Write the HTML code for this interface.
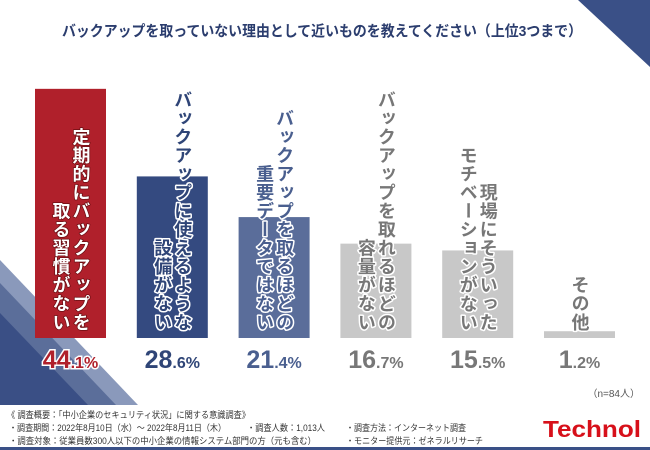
<!DOCTYPE html>
<html><head><meta charset="utf-8"><style>
html,body{margin:0;padding:0;background:#fff;}
svg{display:block;font-family:"Liberation Sans","Noto Sans CJK JP",sans-serif;}
.lbl{font-weight:bold;font-size:18px;writing-mode:vertical-rl;paint-order:stroke;stroke:#fff;stroke-width:3px;stroke-linejoin:round;}
.lbl0{stroke:#6a0d12;stroke-width:1.5px;}
.pct{font-weight:bold;paint-order:stroke;stroke:#fff;stroke-width:3px;}
</style></head><body>
<svg width="650" height="450" viewBox="0 0 650 450">
<polygon points="578,0 650,0 650,67" fill="#3a5087"/>
<polygon points="0,260 138,405 0,405" fill="#8a99bb"/>
<polygon points="0,283 116,405 0,405" fill="#5b6e9a"/>
<polygon points="0,313 88,405 0,405" fill="#3a4f85"/>
<text x="322" y="36" text-anchor="middle" font-size="15" font-weight="bold" fill="#2b3d6e" textLength="520" lengthAdjust="spacingAndGlyphs">バックアップを取っていない理由として近いものを教えてください（上位3つまで）</text>
<g id="bars"></g>
<text x="640" y="397" text-anchor="end" font-size="10" fill="#555">（n=84人）</text>
<g font-size="9" fill="#333">
<text x="7" y="418" textLength="243" lengthAdjust="spacingAndGlyphs">《 調査概要：「中小企業のセキュリティ状況」に関する意識調査》</text>
<text x="9" y="431" textLength="217" lengthAdjust="spacingAndGlyphs">・調査期間：2022年8月10日（水）～ 2022年8月11日（木）</text>
<text x="247" y="431" textLength="78" lengthAdjust="spacingAndGlyphs">・調査人数：1,013人</text>
<text x="346" y="431" textLength="120" lengthAdjust="spacingAndGlyphs">・調査方法：インターネット調査</text>
<text x="9" y="444" textLength="307" lengthAdjust="spacingAndGlyphs">・調査対象：従業員数300人以下の中小企業の情報システム部門の方（元も含む）</text>
<text x="346" y="444" textLength="137" lengthAdjust="spacingAndGlyphs">・モニター提供元：ゼネラルリサーチ</text>
</g>
<text x="641" y="437" text-anchor="end" font-size="23" font-weight="bold" fill="#d7101a" textLength="98" lengthAdjust="spacingAndGlyphs">Technol</text>
<rect x="0" y="447" width="650" height="3" fill="#3a5087"/>
</svg>
<script>
const categories=[["定期的にバックアップを","取る習慣がない"],["バックアップに使えるような","設備がない"],["バックアップを取るほどの","重要データではない"],["バックアップを取れるほどの","容量がない"],["現場にそういった","モチベーションがない"],["その他"]];
const values=[44.1,28.6,21.4,16.7,15.5,1.2];
const valueInt=["44","28","21","16","15","1"];
const valueDec=[".1%",".6%",".4%",".7%",".5%",".2%"];
const barColors=["#b0202b","#344a80","#5a6d9a","#c8c8c8","#c8c8c8","#c8c8c8"];
const textColors=["#ffffff","#2f4577","#4a5f8f","#777777","#777777","#777777"];
const pctColors=["#b0202b","#2f4577","#4a5f8f","#777777","#777777","#777777"];
const NS="http://www.w3.org/2000/svg";
const g=document.getElementById('bars');
const y0=338, pxPer=5.65, x0=35, step=101.8, bw=71;
function y(v){return y0-v*pxPer;}
function x(i){return x0+i*step;}
values.forEach((v,i)=>{
  const r=document.createElementNS(NS,'rect');
  
  
  r.setAttribute('x',x(i));r.setAttribute('y',y(v));r.setAttribute('width',bw);r.setAttribute('height',y0-y(v));r.setAttribute('fill',barColors[i]);
  g.appendChild(r);
  const cx=x(i)+bw/2;
  const lines=categories[i];
  lines.forEach((ln,j)=>{
    const t=document.createElementNS(NS,'text');
    
    
    t.setAttribute('class',i===0?'lbl lbl0':'lbl');
    const off=lines.length===1?0:(j===0?10:-10);
    t.setAttribute('x',cx+off);t.setAttribute('y',331-ln.length*18.5);
    t.setAttribute('fill',textColors[i]);
    t.setAttribute('font-size','18');
    t.setAttribute('textLength',ln.length*18.5);
    t.textContent=ln;
    g.appendChild(t);
  });
  const p=document.createElementNS(NS,'text');
  
  
  p.setAttribute('class','pct');
  p.setAttribute('x',cx);p.setAttribute('y',368);p.setAttribute('text-anchor','middle');p.setAttribute('fill',pctColors[i]);
  const a=document.createElementNS(NS,'tspan');a.setAttribute('font-size','25');a.textContent=valueInt[i];
  const b=document.createElementNS(NS,'tspan');b.setAttribute('font-size','16');b.textContent=valueDec[i];
  p.appendChild(a);p.appendChild(b);
  g.appendChild(p);
});
</script>
</body></html>
